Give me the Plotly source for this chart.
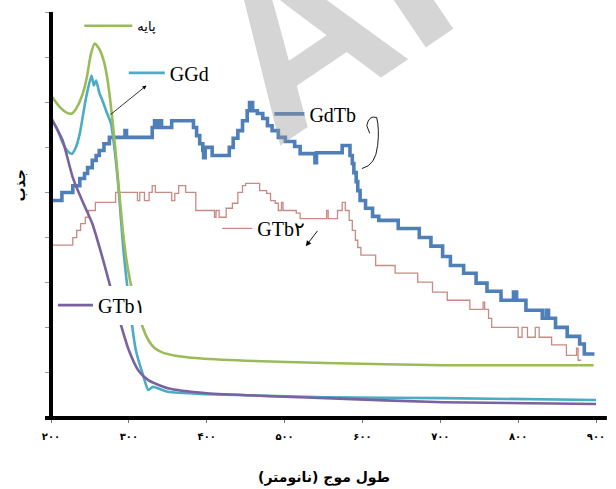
import plotly.graph_objects as go

# ---------------- data (wavelength nm, absorbance a.u.) ----------------
base_nm = [200, 212, 220, 227, 233, 240, 246, 251, 256, 262, 268, 273, 278, 283, 287, 292, 297,
           304, 312, 318, 325, 333, 342, 360, 385, 450, 553, 704, 897]
base_abs = [7.15, 6.88, 6.77, 6.75, 6.88, 7.15, 7.55, 8.05, 8.30, 8.18, 7.90, 7.45, 6.75, 5.90,
            5.11, 4.20, 3.50, 2.85, 2.39, 2.00, 1.73, 1.55, 1.46, 1.38, 1.33, 1.27, 1.22, 1.17, 1.17]

ggd_nm = [200, 208, 215, 222, 227, 232, 237, 245, 252, 255, 258, 262, 266, 271, 277, 282, 287,
          293, 300, 309, 319, 325, 331, 350, 400, 553, 704, 900]
ggd_abs = [6.66, 6.40, 6.10, 5.90, 5.86, 6.00, 6.31, 7.10, 7.59, 7.37, 7.48, 7.21, 7.04, 6.80,
           6.53, 5.90, 5.04, 3.72, 2.61, 1.50, 0.91, 0.62, 0.69, 0.58, 0.53, 0.46, 0.44, 0.40]

gtb1_nm = [200, 208, 215, 228, 240, 253, 267, 275, 287, 300, 312, 325, 350, 400, 553, 704, 900]
gtb1_abs = [6.64, 6.40, 6.15, 5.33, 4.82, 4.31, 3.50, 2.99, 2.23, 1.50, 1.06, 0.84, 0.66, 0.55,
            0.44, 0.35, 0.31]

gdtb_nm = [200, 214, 228, 237, 243, 247, 253, 258, 262, 268, 275, 295, 297, 330, 333, 335, 339,
           342, 355, 383, 387, 391, 395, 396, 398, 407, 429, 434, 440, 446, 452, 455, 459, 465,
           472, 478, 484, 492, 501, 513, 520, 539, 541, 574, 584, 587, 589, 592, 594, 597, 604,
           613, 621, 646, 673, 688, 703, 713, 730, 746, 760, 778, 794, 798, 810, 831, 836, 839,
           848, 863, 879, 885, 898]
gdtb_abs = [4.82, 5.00, 5.15, 5.31, 5.42, 5.55, 5.71, 5.82, 5.93, 6.08, 6.22, 6.37, 6.22, 6.44,
            6.59, 6.44, 6.59, 6.44, 6.59, 6.44, 6.26, 6.08, 5.93, 5.77, 6.00, 5.82, 6.00, 6.20,
            6.37, 6.59, 6.81, 6.99, 6.81, 6.75, 6.64, 6.48, 6.37, 6.22, 6.13, 6.02, 5.86, 5.66,
            5.88, 6.04, 5.82, 5.64, 5.44, 5.24, 5.04, 4.82, 4.65, 4.47, 4.38, 4.20, 4.00, 3.81,
            3.58, 3.38, 3.21, 2.99, 2.81, 2.61, 2.79, 2.61, 2.39, 2.21, 2.39, 2.21, 2.01, 1.81,
            1.64, 1.42, 1.42]

gtb2_nm = [200, 228, 233, 238, 244, 248, 257, 283, 311, 314, 320, 326, 330, 334, 355, 359, 364,
           373, 386, 410, 412, 416, 425, 433, 440, 446, 450, 468, 477, 482, 488, 492, 496, 498,
           515, 520, 554, 556, 568, 574, 578, 583, 587, 591, 594, 598, 617, 642, 671, 690, 709,
           738, 755, 757, 762, 766, 800, 805, 812, 822, 827, 843, 862, 875, 877, 881]
gtb2_abs = [3.83, 4.00, 4.16, 4.31, 4.45, 4.60, 4.78, 5.00, 4.82, 5.00, 4.82, 5.00, 5.15, 5.00,
            4.82, 4.98, 5.15, 5.00, 4.60, 4.45, 4.60, 4.45, 4.65, 4.76, 5.00, 5.15, 5.20, 5.04,
            4.98, 4.82, 4.76, 4.60, 4.78, 4.60, 4.54, 4.42, 4.60, 4.42, 4.60, 4.78, 4.60, 4.38,
            4.16, 3.94, 3.78, 3.61, 3.38, 3.21, 3.01, 2.79, 2.61, 2.41, 2.57, 2.41, 2.21, 2.01,
            1.79, 2.01, 1.79, 2.01, 1.79, 1.62, 1.39, 1.55, 1.28, 1.28]

x_ticks = [200, 300, 400, 500, 600, 700, 800, 900]
x_tick_labels = ["۲۰۰", "۳۰۰", "۴۰۰", "۵۰۰", "۶۰۰", "۷۰۰", "۸۰۰", "۹۰۰"]
y_ticks = list(range(0, 10))

# ---------------- figure ----------------
fig = go.Figure()

fig.add_trace(go.Scatter(x=gdtb_nm, y=gdtb_abs, mode="lines", name="GdTb", legend="legend3",
                         line=dict(color="#4f7fb8", width=3.6, shape="hv")))
fig.add_trace(go.Scatter(x=gtb2_nm, y=gtb2_abs, mode="lines", name="GTb۲", legend="legend4",
                         line=dict(color="#c98a84", width=1.3, shape="hv")))
fig.add_trace(go.Scatter(x=ggd_nm, y=ggd_abs, mode="lines", name="GGd", legend="legend2",
                         line=dict(color="#4bacc6", width=2.6, shape="spline", smoothing=0.6)))
fig.add_trace(go.Scatter(x=base_nm, y=base_abs, mode="lines", name="پایه", legend="legend",
                         line=dict(color="#9bbb59", width=2.6, shape="spline", smoothing=0.6)))
fig.add_trace(go.Scatter(x=gtb1_nm, y=gtb1_abs, mode="lines", name="GTb۱", legend="legend5",
                         line=dict(color="#7a62a0", width=2.6, shape="spline", smoothing=0.6)))

serif = "Liberation Serif, DejaVu Serif, DejaVu Sans"
leg_common = dict(bgcolor="rgba(0,0,0,0)", borderwidth=0, xanchor="left", yanchor="middle",
                  font=dict(family=serif, size=20, color="black"))

fig.update_layout(
    width=616, height=489, autosize=False,
    margin=dict(l=51, r=11, t=11, b=71),
    paper_bgcolor="white", plot_bgcolor="white",
    showlegend=True,
    legend=dict(leg_common, x=0.052, y=0.966, itemwidth=48,
                font=dict(family="DejaVu Sans", size=13, color="black")),
    legend2=dict(leg_common, x=0.1336, y=0.850, itemwidth=36),
    legend3=dict(leg_common, x=0.4007, y=0.749, itemwidth=30),
    legend4=dict(leg_common, x=0.305, y=0.467, itemwidth=30),
    legend5=dict(leg_common, x=0.0036, y=0.278, itemwidth=35, bgcolor="white"),
    xaxis=dict(range=[200, 900], tickvals=x_ticks, ticktext=x_tick_labels,
               ticks="outside", ticklen=4, tickcolor="#777", showline=False,
               showgrid=False, zeroline=False, ticklabelstandoff=5,
               tickfont=dict(family="DejaVu Sans", size=10, color="black", weight="bold")),
    yaxis=dict(range=[0, 9], tickvals=y_ticks, showticklabels=False,
               ticks="outside", ticklen=5, tickcolor="#999", showline=False,
               showgrid=False, zeroline=False),
)

# axis lines (thick black)
fig.add_shape(type="line", xref="paper", yref="paper", x0=-0.011, x1=1.02, y0=0, y1=0,
              line=dict(color="black", width=4))
fig.add_shape(type="line", xref="paper", yref="paper", x0=0, x1=0, y0=-0.005, y1=1.0,
              line=dict(color="black", width=4))

# axis titles
fig.add_annotation(text="<b>طول موج (نانومتر)</b>", xref="paper", yref="paper", x=0.5, y=-0.147,
                   showarrow=False, font=dict(family="DejaVu Sans", size=14, color="black"),
                   xanchor="center", yanchor="middle")
fig.add_annotation(text="<b>جذب</b>", xref="paper", yref="paper", x=-0.057, y=0.5725,
                   showarrow=False, textangle=-90,
                   font=dict(family="DejaVu Sans", size=14, color="black"),
                   xanchor="center", yanchor="middle")

# hand-drawn pointers
fig.add_annotation(x=322.6, y=7.37, ax=274.6, ay=6.70, xref="x", yref="y", axref="x", ayref="y",
                   text="", showarrow=True, arrowhead=2, arrowsize=1, arrowwidth=0.8,
                   arrowcolor="black")
fig.add_annotation(x=527.3, y=3.81, ax=543.7, ay=4.18, xref="x", yref="y", axref="x", ayref="y",
                   text="", showarrow=True, arrowhead=2, arrowsize=1.2, arrowwidth=0.9,
                   arrowcolor="black")
fig.add_shape(type="path", xref="x", yref="y",
              path="M 609.4,6.31 L 605.6,6.48 Q 608,6.72 618.3,6.66 Q 622,6.4 619.5,6.04 Q 617,5.6 599.3,5.53",
              line=dict(color="black", width=0.9))

# faint watermark
fig.add_annotation(text="AI", xref="paper", yref="paper", x=0.505, y=0.985, showarrow=False,
                   textangle=-34, font=dict(family="Liberation Sans", size=230, weight="bold",
                                            color="rgba(150,150,150,0.40)"),
                   xanchor="center", yanchor="middle")

fig.write_html("out.html", config={"displayModeBar": False},
               post_script="document.body.style.margin='0px';")
